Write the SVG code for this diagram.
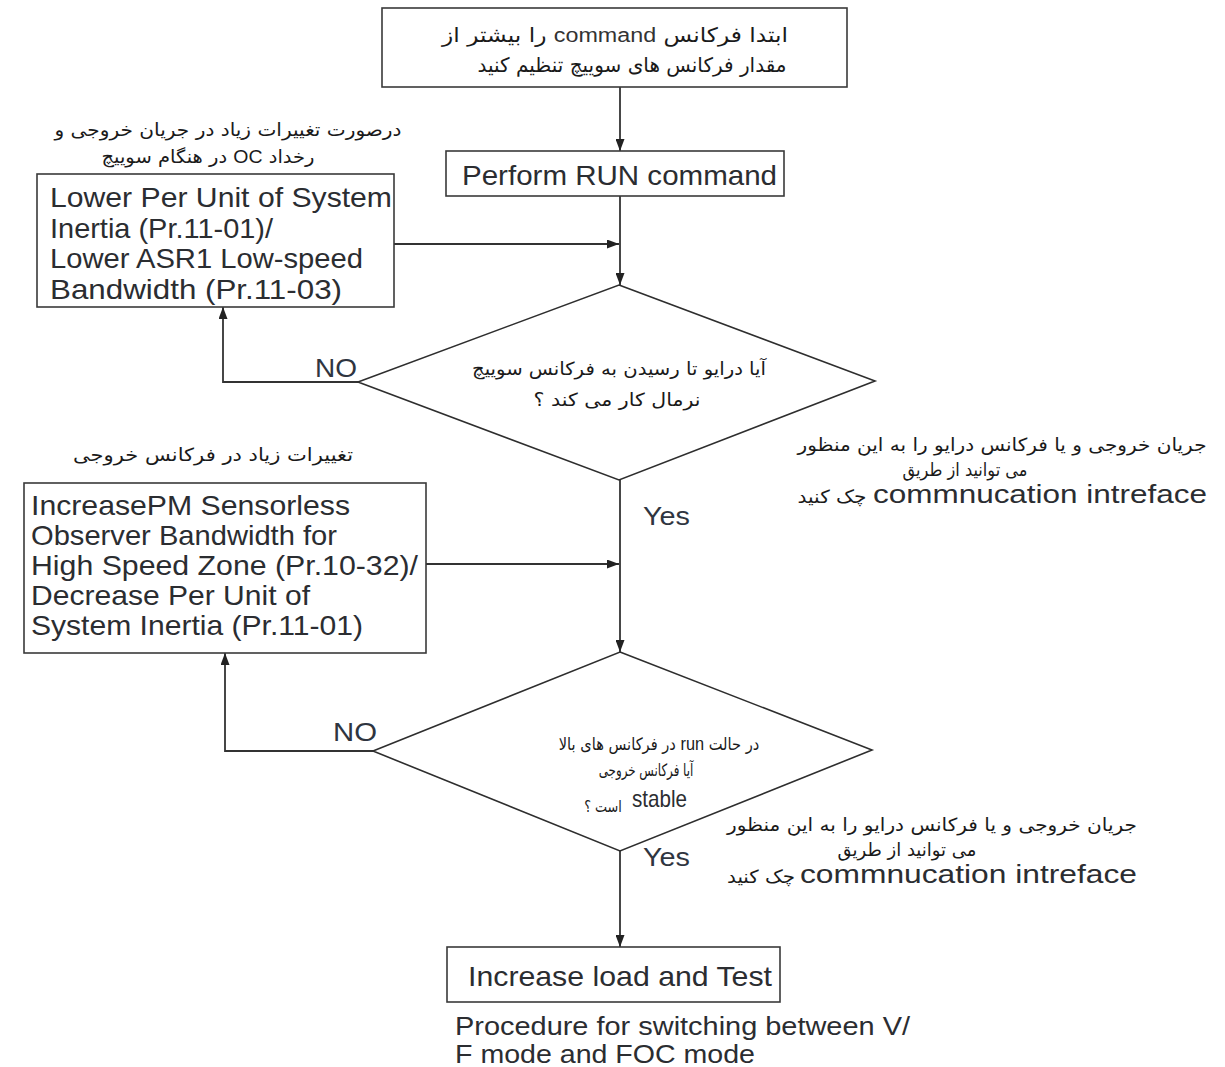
<svg xmlns="http://www.w3.org/2000/svg" width="1225" height="1067" viewBox="0 0 1225 1067">
  <style>
    .box { fill: #ffffff; stroke: #3a3a3a; stroke-width: 1.6; }
    .dia { fill: #ffffff; stroke: #2e2e2e; stroke-width: 1.6; }
    .en { font-family: "Liberation Sans", Arial, sans-serif; fill: #2b2d31; }
    .fa { font-family: "DejaVu Sans", "Noto Sans", sans-serif; fill: #1a1a1a; }
    .lbl { font-family: "Liberation Sans", Arial, sans-serif; fill: #2f3540; font-size: 25px; }
    .conn { fill: none; stroke: #333333; stroke-width: 1.8; }
  </style>
  <defs>
    <marker id="arrow" viewBox="0 0 12 9" refX="12" refY="4.5" markerWidth="12" markerHeight="9" markerUnits="userSpaceOnUse" orient="auto">
      <path d="M0,0 L12,4.5 L0,9 z" fill="#222222"/>
    </marker>
  </defs>
  <rect width="1225" height="1067" fill="#ffffff"/>

  <!-- connectors -->
  <g id="connectors">
    <path class="conn" d="M620,87 L620,151" marker-end="url(#arrow)"/>
    <path class="conn" d="M620,196 L620,285" marker-end="url(#arrow)"/>
    <path class="conn" d="M394,244 L619,244" marker-end="url(#arrow)"/>
    <path class="conn" d="M358,382 L223,382 L223,307" marker-end="url(#arrow)"/>
    <path class="conn" d="M620,480 L620,652" marker-end="url(#arrow)"/>
    <path class="conn" d="M426,564 L619,564" marker-end="url(#arrow)"/>
    <path class="conn" d="M373,751 L225,751 L225,653" marker-end="url(#arrow)"/>
    <path class="conn" d="M620,851 L620,947" marker-end="url(#arrow)"/>
    <text class="lbl" x="315" y="377" textLength="42" lengthAdjust="spacingAndGlyphs">NO</text>
    <text class="lbl" x="333" y="741" textLength="44" lengthAdjust="spacingAndGlyphs">NO</text>
    <text class="lbl" x="643" y="525" textLength="47" lengthAdjust="spacingAndGlyphs">Yes</text>
    <text class="lbl" x="643" y="866" textLength="47" lengthAdjust="spacingAndGlyphs">Yes</text>
  </g>

  <!-- start: set command frequency -->
  <g id="set-frequency">
    <rect class="box" x="382" y="8" width="465" height="79"/>
    <text class="fa" x="615" y="42" font-size="20" text-anchor="middle" direction="rtl" textLength="346" lengthAdjust="spacingAndGlyphs">ابتدا فرکانس <tspan font-family="Liberation Sans, Arial, sans-serif" fill="#333">command</tspan> را بیشتر از</text>
    <text class="fa" x="632" y="72" font-size="20" text-anchor="middle" direction="rtl" textLength="309" lengthAdjust="spacingAndGlyphs">مقدار فرکانس های  سوییچ تنظیم کنید</text>
  </g>

  <g id="perform-run">
    <rect class="box" x="446" y="151" width="338" height="45"/>
    <text class="en" x="462" y="185" font-size="28" textLength="315" lengthAdjust="spacingAndGlyphs">Perform RUN command</text>
  </g>

  <g id="lower-inertia">
    <text class="fa" x="228" y="136" font-size="18" text-anchor="middle" direction="rtl" textLength="347" lengthAdjust="spacingAndGlyphs">درصورت تغییرات زیاد در  جریان خروجی و</text>
    <text class="fa" x="208" y="163" font-size="18" text-anchor="middle" direction="rtl" textLength="213" lengthAdjust="spacingAndGlyphs">رخداد <tspan font-family="Liberation Sans, Arial, sans-serif">OC</tspan> در هنگام سوییچ</text>
    <rect class="box" x="37" y="174" width="357" height="133"/>
    <text class="en" x="50" y="207" font-size="28" textLength="342" lengthAdjust="spacingAndGlyphs">Lower Per Unit of System</text>
    <text class="en" x="50" y="238" font-size="28" textLength="223" lengthAdjust="spacingAndGlyphs">Inertia (Pr.11-01)/</text>
    <text class="en" x="50" y="268" font-size="28" textLength="313" lengthAdjust="spacingAndGlyphs">Lower ASR1 Low-speed</text>
    <text class="en" x="50" y="299" font-size="28" textLength="292" lengthAdjust="spacingAndGlyphs">Bandwidth (Pr.11-03)</text>
  </g>

  <g id="decision-switch-freq">
    <polygon class="dia" points="619,285 875,381 619,480 358,382"/>
    <text class="fa" x="619" y="375" font-size="18" text-anchor="middle" direction="rtl" textLength="294" lengthAdjust="spacingAndGlyphs">آیا درایو تا رسیدن به فرکانس سوییچ</text>
    <text class="fa" x="617" y="406" font-size="18" text-anchor="middle" direction="rtl" textLength="167" lengthAdjust="spacingAndGlyphs">نرمال کار می کند ؟</text>
  </g>

  <g id="note-check-1">
    <text class="fa" x="1002" y="451" font-size="18" text-anchor="middle" direction="rtl" textLength="409" lengthAdjust="spacingAndGlyphs">جریان خروجی و یا فرکانس درایو را به این منظور</text>
    <text class="fa" x="965" y="476" font-size="18" text-anchor="middle" direction="rtl" textLength="125" lengthAdjust="spacingAndGlyphs">می توانید از طریق</text>
    <text class="en" x="873" y="503" font-size="25" fill="#222" textLength="334" lengthAdjust="spacingAndGlyphs">commnucation intreface</text>
    <text class="fa" x="832" y="503" font-size="18" text-anchor="middle" direction="rtl" textLength="69" lengthAdjust="spacingAndGlyphs">چک کنید</text>
  </g>

  <g id="increase-observer">
    <text class="fa" x="213" y="461" font-size="18" text-anchor="middle" direction="rtl" textLength="280" lengthAdjust="spacingAndGlyphs">تغییرات زیاد در فرکانس خروجی</text>
    <rect class="box" x="24" y="483" width="402" height="170"/>
    <text class="en" x="31" y="515" font-size="28" textLength="319" lengthAdjust="spacingAndGlyphs">IncreasePM Sensorless</text>
    <text class="en" x="31" y="545" font-size="28" textLength="306" lengthAdjust="spacingAndGlyphs">Observer Bandwidth for</text>
    <text class="en" x="31" y="575" font-size="28" textLength="387" lengthAdjust="spacingAndGlyphs">High Speed Zone (Pr.10-32)/</text>
    <text class="en" x="31" y="605" font-size="28" textLength="279" lengthAdjust="spacingAndGlyphs">Decrease Per Unit of</text>
    <text class="en" x="31" y="635" font-size="28" textLength="332" lengthAdjust="spacingAndGlyphs">System Inertia (Pr.11-01)</text>
  </g>

  <g id="decision-stable">
    <polygon class="dia" points="620,652 872,750 620,851 373,751"/>
    <!-- question lines, condensed horizontally -->
    <text class="fa" font-size="17" text-anchor="middle" direction="rtl" transform="translate(659,750) scale(0.86,1)">در حالت <tspan font-family="Liberation Sans, Arial, sans-serif" font-size="19">run</tspan> در فرکانس های بالا</text>
    <text class="fa" font-size="17" text-anchor="middle" direction="rtl" transform="translate(646,776) scale(0.7,1)">آیا فرکانس خروجی</text>
    <text class="en" x="632" y="807" font-size="24" fill="#222" textLength="55" lengthAdjust="spacingAndGlyphs">stable</text>
    <text class="fa" font-size="16" text-anchor="middle" direction="rtl" transform="translate(603,812) scale(0.8,1)">است ؟</text>
  </g>

  <g id="note-check-2">
    <text class="fa" x="932" y="831" font-size="18" text-anchor="middle" direction="rtl" textLength="410" lengthAdjust="spacingAndGlyphs">جریان خروجی و یا فرکانس درایو را به این منظور</text>
    <text class="fa" x="907" y="856" font-size="18" text-anchor="middle" direction="rtl" textLength="139" lengthAdjust="spacingAndGlyphs">می توانید از طریق</text>
    <text class="en" x="800" y="883" font-size="25" fill="#222" textLength="337" lengthAdjust="spacingAndGlyphs">commnucation intreface</text>
    <text class="fa" x="761" y="883" font-size="18" text-anchor="middle" direction="rtl" textLength="68" lengthAdjust="spacingAndGlyphs">چک کنید</text>
  </g>

  <g id="increase-load">
    <rect class="box" x="447" y="947" width="333" height="55"/>
    <text class="en" x="468" y="986" font-size="28" textLength="304" lengthAdjust="spacingAndGlyphs">Increase load and Test</text>
  </g>

  <g id="caption">
    <text class="en" x="455" y="1035" font-size="25" textLength="455" lengthAdjust="spacingAndGlyphs">Procedure for switching between V/</text>
    <text class="en" x="455" y="1063" font-size="25" textLength="300" lengthAdjust="spacingAndGlyphs">F mode and FOC mode</text>
  </g>
</svg>
